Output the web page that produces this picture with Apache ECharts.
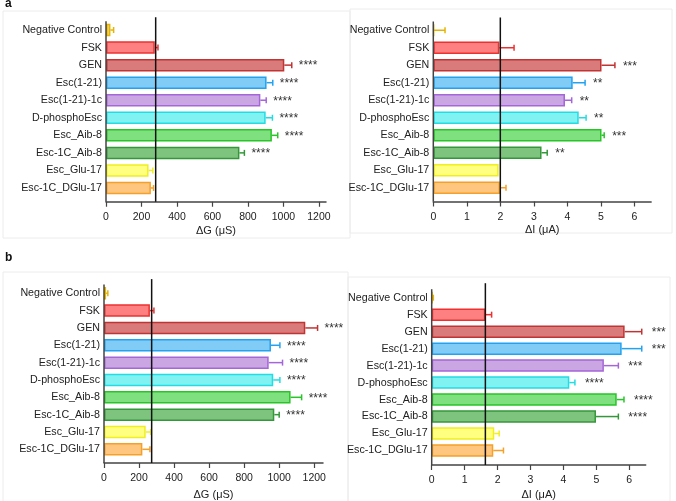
<!DOCTYPE html>
<html>
<head>
<meta charset="utf-8">
<script src="https://cdn.jsdelivr.net/npm/echarts@6/dist/echarts.min.js"></script>
<style>
  html, body { margin: 0; padding: 0; background: #fff; }
  #chart { width: 676px; height: 501px; }
</style>
</head>
<body>
<div id="chart"></div>
<script>
// categories (top to bottom)
var categories = ['Negative Control', 'FSK', 'GEN', 'Esc(1-21)', 'Esc(1-21)-1c', 'D-phosphoEsc',
    'Esc_Aib-8', 'Esc-1C_Aib-8', 'Esc_Glu-17', 'Esc-1C_DGlu-17'];

// panel a, conductance (uS)
var aG = [25, 275, 1005, 905, 870, 900, 935, 752, 240, 253];
var aGErr = [18, 18, 42, 35, 33, 38, 33, 28, 24, 15];
var aGStars = ['', '', '****', '****', '****', '****', '****', '****', '', ''];
var aGRef = 280;

// panel a, current (uA)
var aI = [0.02, 1.97, 5.02, 4.16, 3.93, 4.34, 5.02, 3.23, 1.95, 1.99];
var aIErr = [0.33, 0.44, 0.40, 0.37, 0.20, 0.22, 0.08, 0.17, 0, 0.18];
var aIStars = ['', '', '***', '**', '**', '**', '***', '**', '', ''];
var aIRef = 2.0;

// panel b, conductance (uS)
var bG = [12, 262, 1149, 953, 940, 966, 1065, 972, 238, 219];
var bGErr = [10, 23, 70, 51, 79, 38, 63, 28, 28, 43];
var bGStars = ['', '', '****', '****', '****', '****', '****', '****', '', ''];
var bGRef = 272;

// panel b, current (uA)
var bI = [0.02, 1.63, 5.86, 5.77, 5.23, 4.18, 5.62, 4.99, 1.90, 1.87];
var bIErr = [0.03, 0.19, 0.52, 0.61, 0.44, 0.17, 0.22, 0.68, 0.15, 0.31];
var bIStars = ['', '', '***', '***', '***', '****', '****', '****', '', ''];
var bIRef = 1.63;

// tick labels
var gTicks = [0, 200, 400, 600, 800, 1000, 1200];
var iTicks = [0, 1, 2, 3, 4, 5, 6];

// colours
var fills = ['#f3d25c', '#ff8080', '#d97b7b', '#80ccf6', '#caa7e3', '#80f2f2', '#7fe07f', '#7ec47e', '#ffff80', '#ffc680'];
var borders = ['#e6b400', '#ee3030', '#c03434', '#22a2f0', '#a466d8', '#22dce4', '#28c428', '#34983a', '#f0ee20', '#f5a028'];

var FONT = 'Liberation Sans, Arial, sans-serif';

var panels = [
    { vals: aG, errs: aGErr, stars: aGStars, ref: aGRef, ticks: gTicks, max: 1240, name: 'ΔG (μS)',
      grid: { left: 106, top: 21.25, width: 220, height: 175.5 }, offset: 5, refUp: 4, nameGap: 24, starGap: 7 },
    { vals: aI, errs: aIErr, stars: aIStars, ref: aIRef, ticks: iTicks, max: 6.5, name: 'ΔI (μA)',
      grid: { left: 433.3, top: 21.5, width: 217.8, height: 175 }, offset: 5, refUp: 4, nameGap: 23, starGap: 8 },
    { vals: bG, errs: bGErr, stars: bGStars, ref: bGRef, ticks: gTicks, max: 1250, name: 'ΔG (μS)',
      grid: { left: 104, top: 284.6, width: 219, height: 174 }, offset: 5, refUp: 5.5, nameGap: 26, starGap: 7 },
    { vals: bI, errs: bIErr, stars: bIStars, ref: bIRef, ticks: iTicks, max: 6.5, name: 'ΔI (μA)',
      grid: { left: 431.7, top: 289.2, width: 214, height: 170 }, offset: 6, refUp: 6, nameGap: 24, starGap: 10 }
];

var grids = [], xAxes = [], yAxes = [], series = [];

panels.forEach(function (p, k) {
    grids.push(p.grid);
    xAxes.push({
        type: 'value', gridIndex: k, min: 0, max: p.max, offset: p.offset,
        name: p.name, nameLocation: 'middle', nameGap: p.nameGap,
        nameTextStyle: { fontFamily: FONT, fontSize: 11, color: '#222' },
        splitLine: { show: false },
        axisLine: { show: true, lineStyle: { color: '#444', width: 1.5 } },
        axisTick: { show: true, length: 5, customValues: p.ticks, lineStyle: { color: '#444', width: 1.2 } },
        axisLabel: { customValues: p.ticks, margin: 10, fontFamily: FONT, fontSize: 10.5, color: '#222',
            formatter: function (v) { return String(v); } }
    });
    yAxes.push({
        type: 'category', gridIndex: k, data: categories, inverse: true,
        axisLine: { show: false }, axisTick: { show: false },
        axisLabel: { margin: 4, fontFamily: FONT, fontSize: 10.7, color: '#222' }
    });

    series.push({
        type: 'bar', xAxisIndex: k, yAxisIndex: k, barWidth: 12.5,
        data: p.vals.map(function (v, i) {
            return { value: v, itemStyle: { color: fills[i], borderColor: borders[i], borderWidth: 1.5 } };
        }),
        z: 2, silent: true
    });

    // error bars + significance stars
    series.push({
        type: 'custom', xAxisIndex: k, yAxisIndex: k, z: 3, silent: true,
        encode: { x: 1, y: 0 },
        data: p.vals.map(function (v, i) { return [i, v, p.errs[i]]; }),
        renderItem: function (params, api) {
            var cat = api.value(0), v = api.value(1), e = api.value(2);
            var i = params.dataIndex;
            var a = api.coord([v, cat]);
            var b = api.coord([v + e, cat]);
            var kids = [];
            if (e > 0) {
                kids.push({ type: 'line', shape: { x1: a[0], y1: a[1], x2: b[0], y2: b[1] },
                    style: { stroke: borders[i], lineWidth: 1.5 } });
                kids.push({ type: 'line', shape: { x1: b[0], y1: b[1] - 3, x2: b[0], y2: b[1] + 3 },
                    style: { stroke: borders[i], lineWidth: 1.5 } });
            }
            if (p.stars[i]) {
                kids.push({ type: 'text', style: { text: p.stars[i], x: b[0] + p.starGap, y: b[1] + 1,
                    align: 'left', verticalAlign: 'middle', fill: '#333', font: '12px ' + FONT } });
            }
            return { type: 'group', children: kids };
        }
    });

    // y axis line and reference line
    series.push({
        type: 'custom', xAxisIndex: k, yAxisIndex: k, z: 4, silent: true,
        encode: { x: 0 },
        data: [[p.ref]],
        renderItem: function (params, api) {
            var cs = params.coordSys;
            var x0 = api.coord([0, 0])[0];
            var xr = api.coord([api.value(0), 0])[0];
            var bottom = cs.y + cs.height + p.offset;
            return { type: 'group', children: [
                { type: 'line', shape: { x1: x0, y1: cs.y, x2: x0, y2: bottom },
                  style: { stroke: '#444', lineWidth: 1.5 } },
                { type: 'line', shape: { x1: xr, y1: cs.y - p.refUp, x2: xr, y2: bottom },
                  style: { stroke: '#111', lineWidth: 1.5 } }
            ] };
        }
    });
});

var chart = echarts.init(document.getElementById('chart'), null, { renderer: 'canvas' });
chart.setOption({
    animation: false,
    backgroundColor: '#fff',
    grid: grids,
    xAxis: xAxes,
    yAxis: yAxes,
    series: series,
    graphic: [
        { type: 'rect', shape: { x: 3, y: 11, width: 347, height: 227 }, style: { fill: 'none', stroke: '#ececec', lineWidth: 1 }, z: -1 },
        { type: 'rect', shape: { x: 350, y: 9, width: 322, height: 224 }, style: { fill: 'none', stroke: '#ececec', lineWidth: 1 }, z: -1 },
        { type: 'rect', shape: { x: 3, y: 272, width: 345, height: 240 }, style: { fill: 'none', stroke: '#ececec', lineWidth: 1 }, z: -1 },
        { type: 'rect', shape: { x: 348, y: 277, width: 322, height: 240 }, style: { fill: 'none', stroke: '#ececec', lineWidth: 1 }, z: -1 },
        { type: 'text', left: 5, top: -2, style: { text: 'a', font: 'bold 12px ' + FONT, fill: '#111' } },
        { type: 'text', left: 5, top: 252, style: { text: 'b', font: 'bold 12px ' + FONT, fill: '#111' } }
    ]
});
</script>
</body>
</html>
